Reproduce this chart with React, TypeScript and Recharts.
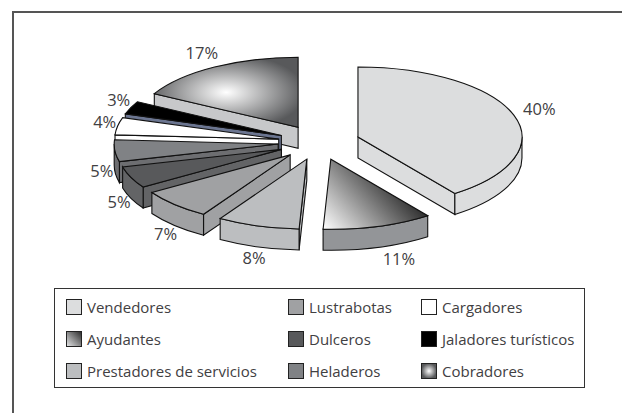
import { Legend, Pie, PieChart } from 'recharts';

// legend order, column by column
const categories = [
  'Vendedores',
  'Ayudantes',
  'Prestadores de servicios',
  'Lustrabotas',
  'Dulceros',
  'Heladeros',
  'Cargadores',
  'Jaladores turísticos',
  'Cobradores',
];
// the labels show them rounded
const shares = [39.9, 10.8, 8.1, 7.1, 5, 5, 4, 3, 17];

const TEXT = '#414042';
const FONT = '"Open Sans", sans-serif';

const topFill: Record<string, string> = {
  Vendedores: '#dcddde',
  Ayudantes: 'url(#ayudantes)',
  'Prestadores de servicios': '#bcbec0',
  Lustrabotas: '#a0a1a3',
  Dulceros: '#58595b',
  Heladeros: '#808285',
  Cargadores: '#ffffff',
  'Jaladores turísticos': '#000000',
  Cobradores: 'url(#cobradores)',
};
const sideFill: Record<string, string> = {
  Vendedores: '#dcddde',
  Ayudantes: '#939598',
  'Prestadores de servicios': '#bcbec0',
  Lustrabotas: '#a0a1a3',
  Dulceros: '#636466',
  Heladeros: '#6d6e71',
  Cargadores: '#ffffff',
  'Jaladores turísticos': '#6b7590',
  Cobradores: '#c7c8ca',
};
const labelNudge: Record<string, number> = { Vendedores: 13, Ayudantes: 17, Cobradores: -6 };

// tilt of the fake 3D pie
const SQUASH = 0.427;
const DEPTH = 21;
const EXPLODE = 0.25;
const RAD = Math.PI / 180;
const EDGE = 1.1;

// reversed so the slices at the back are painted first
const data = categories
  .map((name, i) => ({ name, value: shares[i] }))
  .reverse();

function apexOf(cx: number, cy: number, r: number, mid: number) {
  return {
    x: cx + r * EXPLODE * Math.cos(mid * RAD),
    y: cy - r * SQUASH * EXPLODE * Math.sin(mid * RAD),
  };
}

function Slice(props: any) {
  const { cx, cy, outerRadius: rx, startAngle, endAngle, payload } = props;
  const name = payload.name ?? props.name;
  const ry = rx * SQUASH;
  const apex = apexOf(cx, cy, rx, (startAngle + endAngle) / 2);
  const pt = (a: number, dy = 0) =>
    `${apex.x + rx * Math.cos(a * RAD)} ${apex.y - ry * Math.sin(a * RAD) + dy}`;
  const radialFaces = (a: number, normal: number) =>
    Math.sin(normal * RAD) < -0.001 ? (
      <path
        d={`M${apex.x} ${apex.y}L${pt(a)}L${pt(a, DEPTH)}L${apex.x} ${apex.y + DEPTH}Z`}
        fill={sideFill[name]}
        stroke="#111"
        strokeWidth={EDGE}
      />
    ) : null;
  const from = Math.max(startAngle, 180);
  const to = Math.min(endAngle, 360);
  const large = endAngle - startAngle > 180 ? 1 : 0;
  return (
    <g>
      {radialFaces(startAngle, startAngle - 90)}
      {radialFaces(endAngle, endAngle + 90)}
      {to > from && (
        <path
          d={`M${pt(from)}A${rx} ${ry} 0 0 0 ${pt(to)}L${pt(to, DEPTH)}A${rx} ${ry} 0 0 1 ${pt(from, DEPTH)}Z`}
          fill={sideFill[name]}
          stroke="#111"
          strokeWidth={EDGE}
        />
      )}
      <path
        d={`M${apex.x} ${apex.y}L${pt(startAngle)}A${rx} ${ry} 0 ${large} 0 ${pt(endAngle)}Z`}
        fill={topFill[name]}
        stroke="#111"
        strokeWidth={EDGE}
      />
    </g>
  );
}

function SliceLabel(props: any) {
  const { cx, cy, outerRadius: rx, midAngle, payload } = props;
  const apex = apexOf(cx, cy, rx, midAngle);
  const s = Math.sin(midAngle * RAD);
  const c = Math.cos(midAngle * RAD);
  const x = apex.x + rx * 1.08 * c + (labelNudge[payload.name] ?? 0);
  const y = apex.y - rx * SQUASH * 1.2 * s + (s < 0.1 ? DEPTH : 0) - 2.5;
  return (
    <text x={x} y={y} textAnchor="middle" dominantBaseline="central" fontFamily={FONT} fontSize={16.5} fill={TEXT}>
      {Math.round(payload.value)}%
    </text>
  );
}

function Swatches() {
  return (
    <div
      style={{
        boxSizing: 'border-box',
        width: 531,
        height: 100,
        border: '1px solid #333',
        background: '#fff',
        position: 'relative',
        fontFamily: FONT,
        fontSize: 15,
        color: TEXT,
      }}
    >
      {categories.map((name, i) => {
        const col = Math.floor(i / 3);
        const row = i % 3;
        return (
          <div
            key={name}
            style={{
              position: 'absolute',
              left: [11, 233, 366][col],
              top: 8 + row * 32,
              display: 'flex',
              alignItems: 'center',
              height: 20,
              whiteSpace: 'nowrap',
            }}
          >
            <svg width={16} height={16} style={{ marginRight: 5 }}>
              <defs>
                <linearGradient id={`sw-a-${i}`} x1="0" y1="1" x2="1" y2="0">
                  <stop offset="0" stopColor="#e6e7e8" />
                  <stop offset="1" stopColor="#2b2b2b" />
                </linearGradient>
                <radialGradient id={`sw-c-${i}`}>
                  <stop offset="0" stopColor="#ffffff" />
                  <stop offset="1" stopColor="#58595b" />
                </radialGradient>
              </defs>
              <rect
                x={0.5}
                y={0.5}
                width={15}
                height={15}
                stroke="#222"
                fill={
                  name === 'Ayudantes'
                    ? `url(#sw-a-${i})`
                    : name === 'Cobradores'
                      ? `url(#sw-c-${i})`
                      : topFill[name]
                }
              />
            </svg>
            {name}
          </div>
        );
      })}
    </div>
  );
}

export default function App() {
  return (
    <div
      style={{
        position: 'absolute',
        left: 0,
        top: 0,
        width: 622,
        height: 413,
        background: '#fff',
        overflow: 'hidden',
      }}
    >
      <div
        style={{
          position: 'absolute',
          left: 12,
          top: 11,
          width: 620,
          height: 410,
          borderLeft: '2px solid #555',
          borderTop: '2px solid #555',
        }}
      />
      <PieChart
        width={622}
        height={413}
        margin={{ top: 0, right: 0, bottom: 0, left: 0 }}
        style={{ position: 'absolute', left: 0, top: 0 }}
      >
        <defs>
          <linearGradient id="ayudantes" x1="0" y1="1" x2="1" y2="0.4">
            <stop offset="0" stopColor="#ffffff" />
            <stop offset="1" stopColor="#000000" />
          </linearGradient>
          <radialGradient id="cobradores" r="0.55">
            <stop offset="0" stopColor="#ffffff" />
            <stop offset="1" stopColor="#58595b" />
          </radialGradient>
        </defs>
        <Pie
          data={data}
          dataKey="value"
          nameKey="name"
          cx={319}
          cy={142.4}
          innerRadius={0}
          outerRadius={164}
          startAngle={90}
          endAngle={450}
          stroke="none"
          shape={Slice}
          label={SliceLabel}
          labelLine={false}
          isAnimationActive={false}
        />
        <Legend
          content={() => <Swatches />}
          wrapperStyle={{ position: 'absolute', left: 54, top: 288, width: 531, height: 100 }}
        />
      </PieChart>
    </div>
  );
}
